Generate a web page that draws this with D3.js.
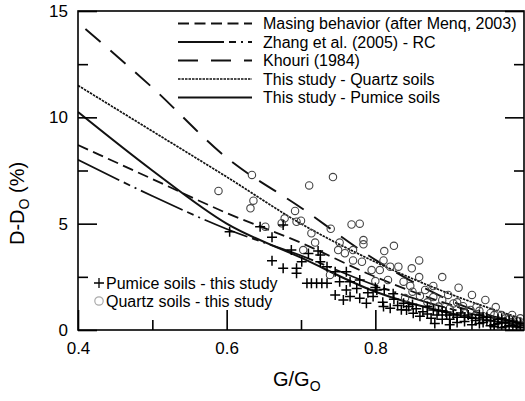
<!DOCTYPE html>
<html>
<head>
<meta charset="utf-8">
<script src="https://cdn.jsdelivr.net/npm/d3@7"></script>
<style>
body { margin: 0; background: #fff; }
svg { font-family: Arial, "Liberation Sans", sans-serif; }
</style>
</head>
<body>
<svg id="chart" width="525" height="401"></svg>
<script>
// curves
let curveX = [0.4, 0.5, 0.6, 0.7, 0.8, 0.9, 1.0];
let khouriX = [0.41, 0.5, 0.6, 0.7, 0.8, 0.9, 1.0];
let khouriY = [14.15, 11.4, 8.1, 5.75, 3.3, 1.4, 0.2];
let quartzY = [11.5, 9.35, 7.2, 5.0, 3.2, 1.7, 0.5];
let masingY = [8.7, 7.1, 5.5, 4.1, 2.5, 1.2, 0.3];
let zhangY = [8.0, 6.3, 4.75, 3.5, 2.1, 1.0, 0.3];
let pumiceY = [10.25, 7.5, 5.0, 3.4, 1.8, 0.8, 0.2];

// quartz soils (circles)
let quartzPtsX = [0.589, 0.634, 0.636, 0.632, 0.692, 0.678, 0.694, 0.652, 0.711, 0.743, 0.700, 0.740, 0.768, 0.779, 0.674, 0.714, 0.752, 0.784, 0.784, 0.719, 0.703, 0.750, 0.759, 0.770, 0.770, 0.782, 0.795, 0.825, 0.812, 0.811, 0.859, 0.831, 0.849, 0.806, 0.820, 0.817, 0.859, 0.890, 0.838, 0.847, 0.878, 0.867, 0.912, 0.898, 0.930, 0.948, 0.962, 0.936, 0.984, 0.970, 0.739, 0.878, 0.890, 0.905, 0.918, 0.928, 0.955, 0.975, 0.992,
  0.860, 0.870, 0.885, 0.900, 0.910, 0.920, 0.940, 0.945, 0.960, 0.965, 0.980, 0.985, 0.995, 0.850, 0.840, 0.800];
let quartzPtsY = [6.54, 7.29, 6.08, 5.72, 5.60, 5.25, 5.09, 4.86, 6.80, 7.19, 5.14, 4.76, 4.96, 5.00, 5.02, 4.55, 4.11, 4.23, 4.03, 4.11, 3.76, 3.76, 3.61, 3.76, 3.27, 3.21, 2.82, 3.96, 3.71, 3.27, 3.27, 2.98, 2.90, 2.82, 2.98, 2.35, 2.49, 2.49, 2.27, 2.07, 2.07, 1.88, 1.99, 1.65, 1.65, 1.41, 1.08, 1.08, 0.71, 0.71, 2.59, 1.55, 1.40, 1.25, 1.12, 0.94, 0.80, 0.55, 0.40,
  1.60, 1.30, 1.10, 1.00, 1.30, 0.80, 0.90, 0.65, 0.70, 0.45, 0.50, 0.30, 0.55, 1.80, 1.50, 2.30];

// pumice soils (pluses)
let pumicePtsX = [0.604, 0.645, 0.676, 0.661, 0.687, 0.723, 0.726, 0.661, 0.676, 0.694, 0.694, 0.701, 0.726, 0.735, 0.708, 0.714, 0.721, 0.728, 0.735, 0.746, 0.761, 0.752, 0.766, 0.779, 0.761, 0.746, 0.757, 0.766, 0.779, 0.788, 0.802, 0.797, 0.811, 0.820, 0.838, 0.842, 0.851, 0.864, 0.878, 0.883, 0.896, 0.710, 0.800, 0.812, 0.824, 0.900, 0.910, 0.920, 0.930, 0.940, 0.950, 0.960, 0.970, 0.980, 0.990, 0.995, 0.965, 0.985, 0.925, 0.945, 0.975, 0.955, 0.870, 0.890, 0.850,
  0.810, 0.830, 0.835, 0.845, 0.855, 0.860, 0.870, 0.875, 0.885, 0.890, 0.895, 0.905, 0.910, 0.915, 0.920, 0.935, 0.940, 0.945, 0.950, 0.955, 0.960, 0.965, 0.970, 0.975, 0.980, 0.985, 0.990, 0.995, 0.970, 0.930, 0.900, 0.880, 0.790, 0.775, 0.825];
let pumicePtsY = [4.62, 4.86, 4.94, 4.36, 3.76, 3.71, 3.53, 3.26, 2.90, 2.90, 2.67, 3.21, 3.21, 2.98, 2.20, 2.20, 2.20, 2.20, 2.20, 2.74, 2.74, 2.27, 2.27, 2.35, 1.88, 1.65, 1.41, 1.57, 1.49, 1.26, 1.88, 1.57, 1.10, 1.02, 1.26, 0.94, 0.79, 0.86, 0.94, 0.71, 0.71, 3.60, 2.00, 1.90, 1.70, 0.50, 0.60, 0.40, 0.55, 0.30, 0.45, 0.25, 0.35, 0.20, 0.15, 0.30, 0.50, 0.40, 0.70, 0.60, 0.15, 0.20, 1.10, 0.90, 1.20,
  1.30, 1.15, 0.95, 1.10, 1.00, 0.65, 0.75, 0.55, 0.90, 0.50, 0.85, 0.70, 0.35, 0.80, 0.60, 0.45, 0.70, 0.35, 0.60, 0.45, 0.15, 0.30, 0.55, 0.35, 0.45, 0.20, 0.35, 0.10, 0.10, 0.25, 0.25, 0.30, 1.75, 1.95, 1.45];

let xTicks = [0.4, 0.6, 0.8];
let xMinor = [0.5, 0.7, 0.9];
let yTicks = [0, 5, 10, 15];
let yMinor = [2.5, 7.5, 12.5];

let legendNames = ["Masing behavior (after Menq, 2003)", "Zhang et al. (2005) - RC", "Khouri (1984)", "This study - Quartz soils", "This study - Pumice soils"];

let svg = d3.select("#chart");
const mLeft = 78, mRight = 524, mTop = 11, mBottom = 330;

let x = d3.scaleLinear().domain([0.4, 1.0]).range([mLeft, mRight]);
let y = d3.scaleLinear().domain([0, 15]).range([mBottom, mTop]);

// styles for the five curves
let styles = [
  {dash: "11,5.5", w: 1.8},
  {dash: "46,5,7,5,2,5", w: 1.8},
  {dash: "20,13", w: 1.9},
  {dash: "2.5,1", w: 1.7},
  {dash: null, w: 2}
];

let curves = [
  d3.zip(curveX, masingY),
  d3.zip(curveX, zhangY),
  d3.zip(khouriX, khouriY),
  d3.zip(curveX, quartzY),
  d3.zip(curveX, pumiceY)
];

let line = d3.line().x(d => x(d[0])).y(d => y(d[1])).curve(d3.curveMonotoneX);

svg.append("defs").append("clipPath").attr("id", "clip")
  .append("rect").attr("x", mLeft).attr("y", mTop).attr("width", mRight - mLeft).attr("height", mBottom - mTop);

let plot = svg.append("g").attr("clip-path", "url(#clip)");

curves.forEach(function(c, i) {
  plot.append("path")
    .attr("d", line(c))
    .attr("fill", "none")
    .attr("stroke", "#111")
    .attr("stroke-width", styles[i].w)
    .attr("stroke-dasharray", styles[i].dash);
});

// circles
plot.selectAll(".qpt").data(d3.zip(quartzPtsX, quartzPtsY)).enter()
  .append("circle").attr("class", "qpt")
  .attr("cx", d => x(d[0]))
  .attr("cy", d => y(d[1]))
  .attr("r", 3.7)
  .attr("fill", "none")
  .attr("stroke", "#444")
  .attr("stroke-width", 1.1);

// pluses
plot.selectAll(".ppt").data(d3.zip(pumicePtsX, pumicePtsY)).enter()
  .append("path").attr("class", "ppt")
  .attr("d", d => "M" + (x(d[0]) - 5) + "," + y(d[1]) + "h10M" + x(d[0]) + "," + (y(d[1]) - 5) + "v10")
  .attr("stroke", "#000")
  .attr("stroke-width", 1.5);

// axes, ticks pointing inward
svg.append("g").attr("transform", "translate(0," + mBottom + ")")
  .call(d3.axisBottom(x).tickValues(xTicks).tickSize(-20).tickPadding(12).tickFormat(d3.format(".1f")));
svg.append("g").attr("transform", "translate(0," + mBottom + ")")
  .call(d3.axisBottom(x).tickValues(xMinor).tickSize(-10).tickFormat(""));
svg.append("g").attr("transform", "translate(" + mLeft + ",0)")
  .call(d3.axisLeft(y).tickValues(yTicks).tickSize(-19).tickPadding(10));
svg.append("g").attr("transform", "translate(" + mLeft + ",0)")
  .call(d3.axisLeft(y).tickValues(yMinor).tickSize(-10).tickFormat(""));
svg.append("g").attr("transform", "translate(" + mRight + ",0)")
  .call(d3.axisRight(y).tickValues(yTicks).tickSize(-19).tickFormat(""));
svg.append("g").attr("transform", "translate(" + mRight + ",0)")
  .call(d3.axisRight(y).tickValues(yMinor).tickSize(-10).tickFormat(""));

svg.selectAll(".domain").remove();
svg.selectAll(".tick line").attr("stroke", "#000").attr("stroke-width", 1.6);
svg.selectAll(".tick text").attr("font-size", 17).attr("fill", "#000")
  .attr("font-family", "Arial, 'Liberation Sans', sans-serif");

svg.append("rect")
  .attr("x", mLeft).attr("y", mTop)
  .attr("width", mRight - mLeft).attr("height", mBottom - mTop)
  .attr("fill", "none").attr("stroke", "#000").attr("stroke-width", 1.6);

// axis titles
let xt = svg.append("text").attr("x", 273).attr("y", 386).attr("font-size", 20);
xt.append("tspan").text("G/G");
xt.append("tspan").attr("font-size", 14).attr("dy", 5).text("O");

let yt = svg.append("text").attr("transform", "translate(24,245) rotate(-90)").attr("font-size", 20);
yt.append("tspan").text("D-D");
yt.append("tspan").attr("font-size", 14).attr("dy", 5).text("O");
yt.append("tspan").attr("dy", -5).text(" (%)");

// legend for curves
legendNames.forEach(function(name, i) {
  let ly = 23.5 + i * 18.5;
  svg.append("line")
    .attr("x1", 178).attr("x2", 252).attr("y1", ly).attr("y2", ly)
    .attr("stroke", "#111")
    .attr("stroke-width", styles[i].w)
    .attr("stroke-dasharray", styles[i].dash);
  svg.append("text").attr("x", 263).attr("y", ly + 5.5).attr("font-size", 16).text(name);
});

// legend for points
svg.append("path").attr("d", "M94,283h10M99,278v10").attr("stroke", "#000").attr("stroke-width", 1.3);
svg.append("text").attr("x", 106).attr("y", 288.5).attr("font-size", 16).text("Pumice soils - this study");
svg.append("circle").attr("cx", 99).attr("cy", 301).attr("r", 4.2).attr("fill", "none").attr("stroke", "#aaa").attr("stroke-width", 1.2);
svg.append("text").attr("x", 106).attr("y", 306.5).attr("font-size", 16).text("Quartz soils - this study");
</script>
</body>
</html>
